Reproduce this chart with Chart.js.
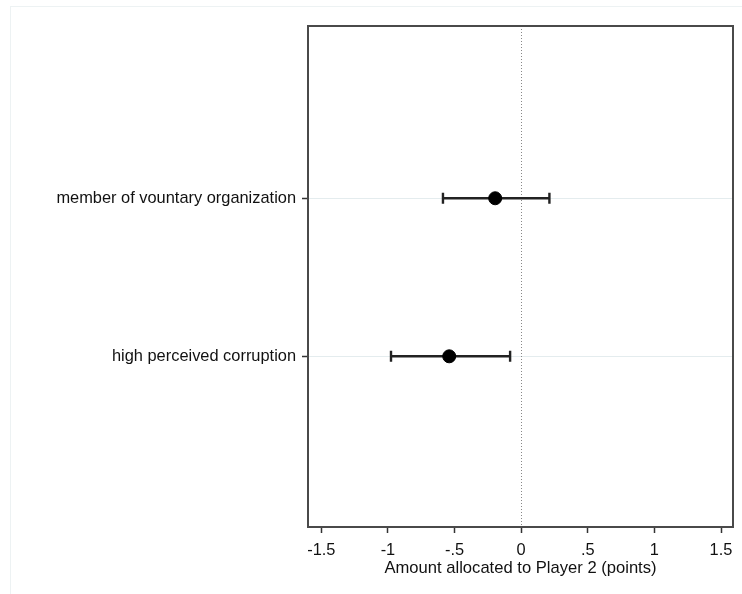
<!DOCTYPE html>
<html>
<head>
<meta charset="utf-8">
<script src="https://cdn.jsdelivr.net/npm/chart.js@4/dist/chart.umd.min.js"></script>
<style>
  html, body { margin: 0; padding: 0; background: #fff; }
  #wrap { width: 742px; height: 594px; }
</style>
</head>
<body>
<div id="wrap"><canvas id="coefChart" width="742" height="594"></canvas></div>
<script>
// donnees
const categories = ['member of vountary organization', 'high perceived corruption'];
const estimates = [-0.195, -0.54];
const ciLow = [-0.587, -0.977];
const ciHigh = [0.212, -0.083];
const xTickValues = [-1.5, -1, -0.5, 0, 0.5, 1, 1.5];
const xTickLabels = ['-1.5', '-1', '-.5', '0', '.5', '1', '1.5'];
const xTitle = 'Amount allocated to Player 2 (points)';

const FONT = '"Liberation Sans", Arial, Helvetica, sans-serif';

// cadre exterieur tres pale, ligne pointillee a zero, barres d'erreur et cadre du graphe
const decorPlugin = {
    id: 'decor',
    beforeDraw(chart) {
        const ctx = chart.ctx;
        ctx.save();
        ctx.strokeStyle = '#edf2f3';
        ctx.lineWidth = 1;
        ctx.strokeRect(10.5, 6.5, 760, 620);
        ctx.restore();
    },
    beforeDatasetsDraw(chart) {
        const { ctx, chartArea: a, scales: { x, y } } = chart;
        ctx.save();
        // ligne de reference a 0
        const x0 = Math.round(x.getPixelForValue(0)) + 0.5;
        ctx.strokeStyle = '#888';
        ctx.lineWidth = 1;
        ctx.setLineDash([1, 2]);
        ctx.beginPath();
        ctx.moveTo(x0, a.top);
        ctx.lineTo(x0, a.bottom);
        ctx.stroke();
        ctx.setLineDash([]);
        // intervalles de confiance
        ctx.strokeStyle = '#222';
        ctx.lineWidth = 2.4;
        categories.forEach((c, i) => {
            const py = y.getPixelForValue(i + 1);
            const xl = x.getPixelForValue(ciLow[i]);
            const xh = x.getPixelForValue(ciHigh[i]);
            ctx.beginPath();
            ctx.moveTo(xl, py);
            ctx.lineTo(xh, py);
            ctx.moveTo(xl, py - 5.5);
            ctx.lineTo(xl, py + 5.5);
            ctx.moveTo(xh, py - 5.5);
            ctx.lineTo(xh, py + 5.5);
            ctx.stroke();
        });
        ctx.restore();
    },
    afterDraw(chart) {
        const { ctx, chartArea: a } = chart;
        ctx.save();
        ctx.strokeStyle = '#4a4a4a';
        ctx.lineWidth = 2;
        ctx.strokeRect(a.left, a.top, a.right - a.left, a.bottom - a.top);
        ctx.restore();
    }
};

const ctx = document.getElementById('coefChart').getContext('2d');
new Chart(ctx, {
    type: 'scatter',
    data: {
        datasets: [{
            data: estimates.map((v, i) => ({ x: v, y: i + 1 })),
            backgroundColor: '#000',
            borderColor: '#000',
            pointRadius: 6.5,
            pointHoverRadius: 6.5
        }]
    },
    options: {
        responsive: false,
        animation: false,
        events: [],
        layout: { padding: { top: 26, right: 9, left: 0, bottom: 0 } },
        plugins: {
            legend: { display: false },
            tooltip: { enabled: false }
        },
        scales: {
            x: {
                type: 'linear',
                min: -1.6,
                max: 1.59,
                afterBuildTicks: (s) => { s.ticks = xTickValues.map(v => ({ value: v })); },
                afterFit: (s) => { s.height = 67; },
                grid: {
                    drawOnChartArea: false,
                    drawTicks: true,
                    tickLength: 6,
                    tickColor: '#333',
                    tickWidth: 1.5
                },
                border: { display: false },
                ticks: {
                    color: '#111',
                    padding: 8,
                    font: { family: FONT, size: 16.4 },
                    maxRotation: 0,
                    callback: (v) => {
                        const k = xTickValues.indexOf(v);
                        return k >= 0 ? xTickLabels[k] : '';
                    }
                },
                title: {
                    display: true,
                    text: xTitle,
                    color: '#111',
                    padding: { top: 0, bottom: 16 },
                    font: { family: FONT, size: 16.6 }
                }
            },
            y: {
                type: 'linear',
                reverse: true,
                min: -0.09,
                max: 3.08,
                afterBuildTicks: (s) => { s.ticks = categories.map((c, i) => ({ value: i + 1 })); },
                afterFit: (s) => { s.width = 308; },
                grid: {
                    color: '#e4ecee',
                    lineWidth: 1,
                    drawTicks: true,
                    tickLength: 6,
                    tickColor: '#333',
                    tickWidth: 1.5
                },
                border: { display: false },
                ticks: {
                    color: '#111',
                    padding: 6,
                    font: { family: FONT, size: 16.4 },
                    callback: (v) => categories[v - 1] || ''
                }
            }
        }
    },
    plugins: [decorPlugin]
});
</script>
</body>
</html>
